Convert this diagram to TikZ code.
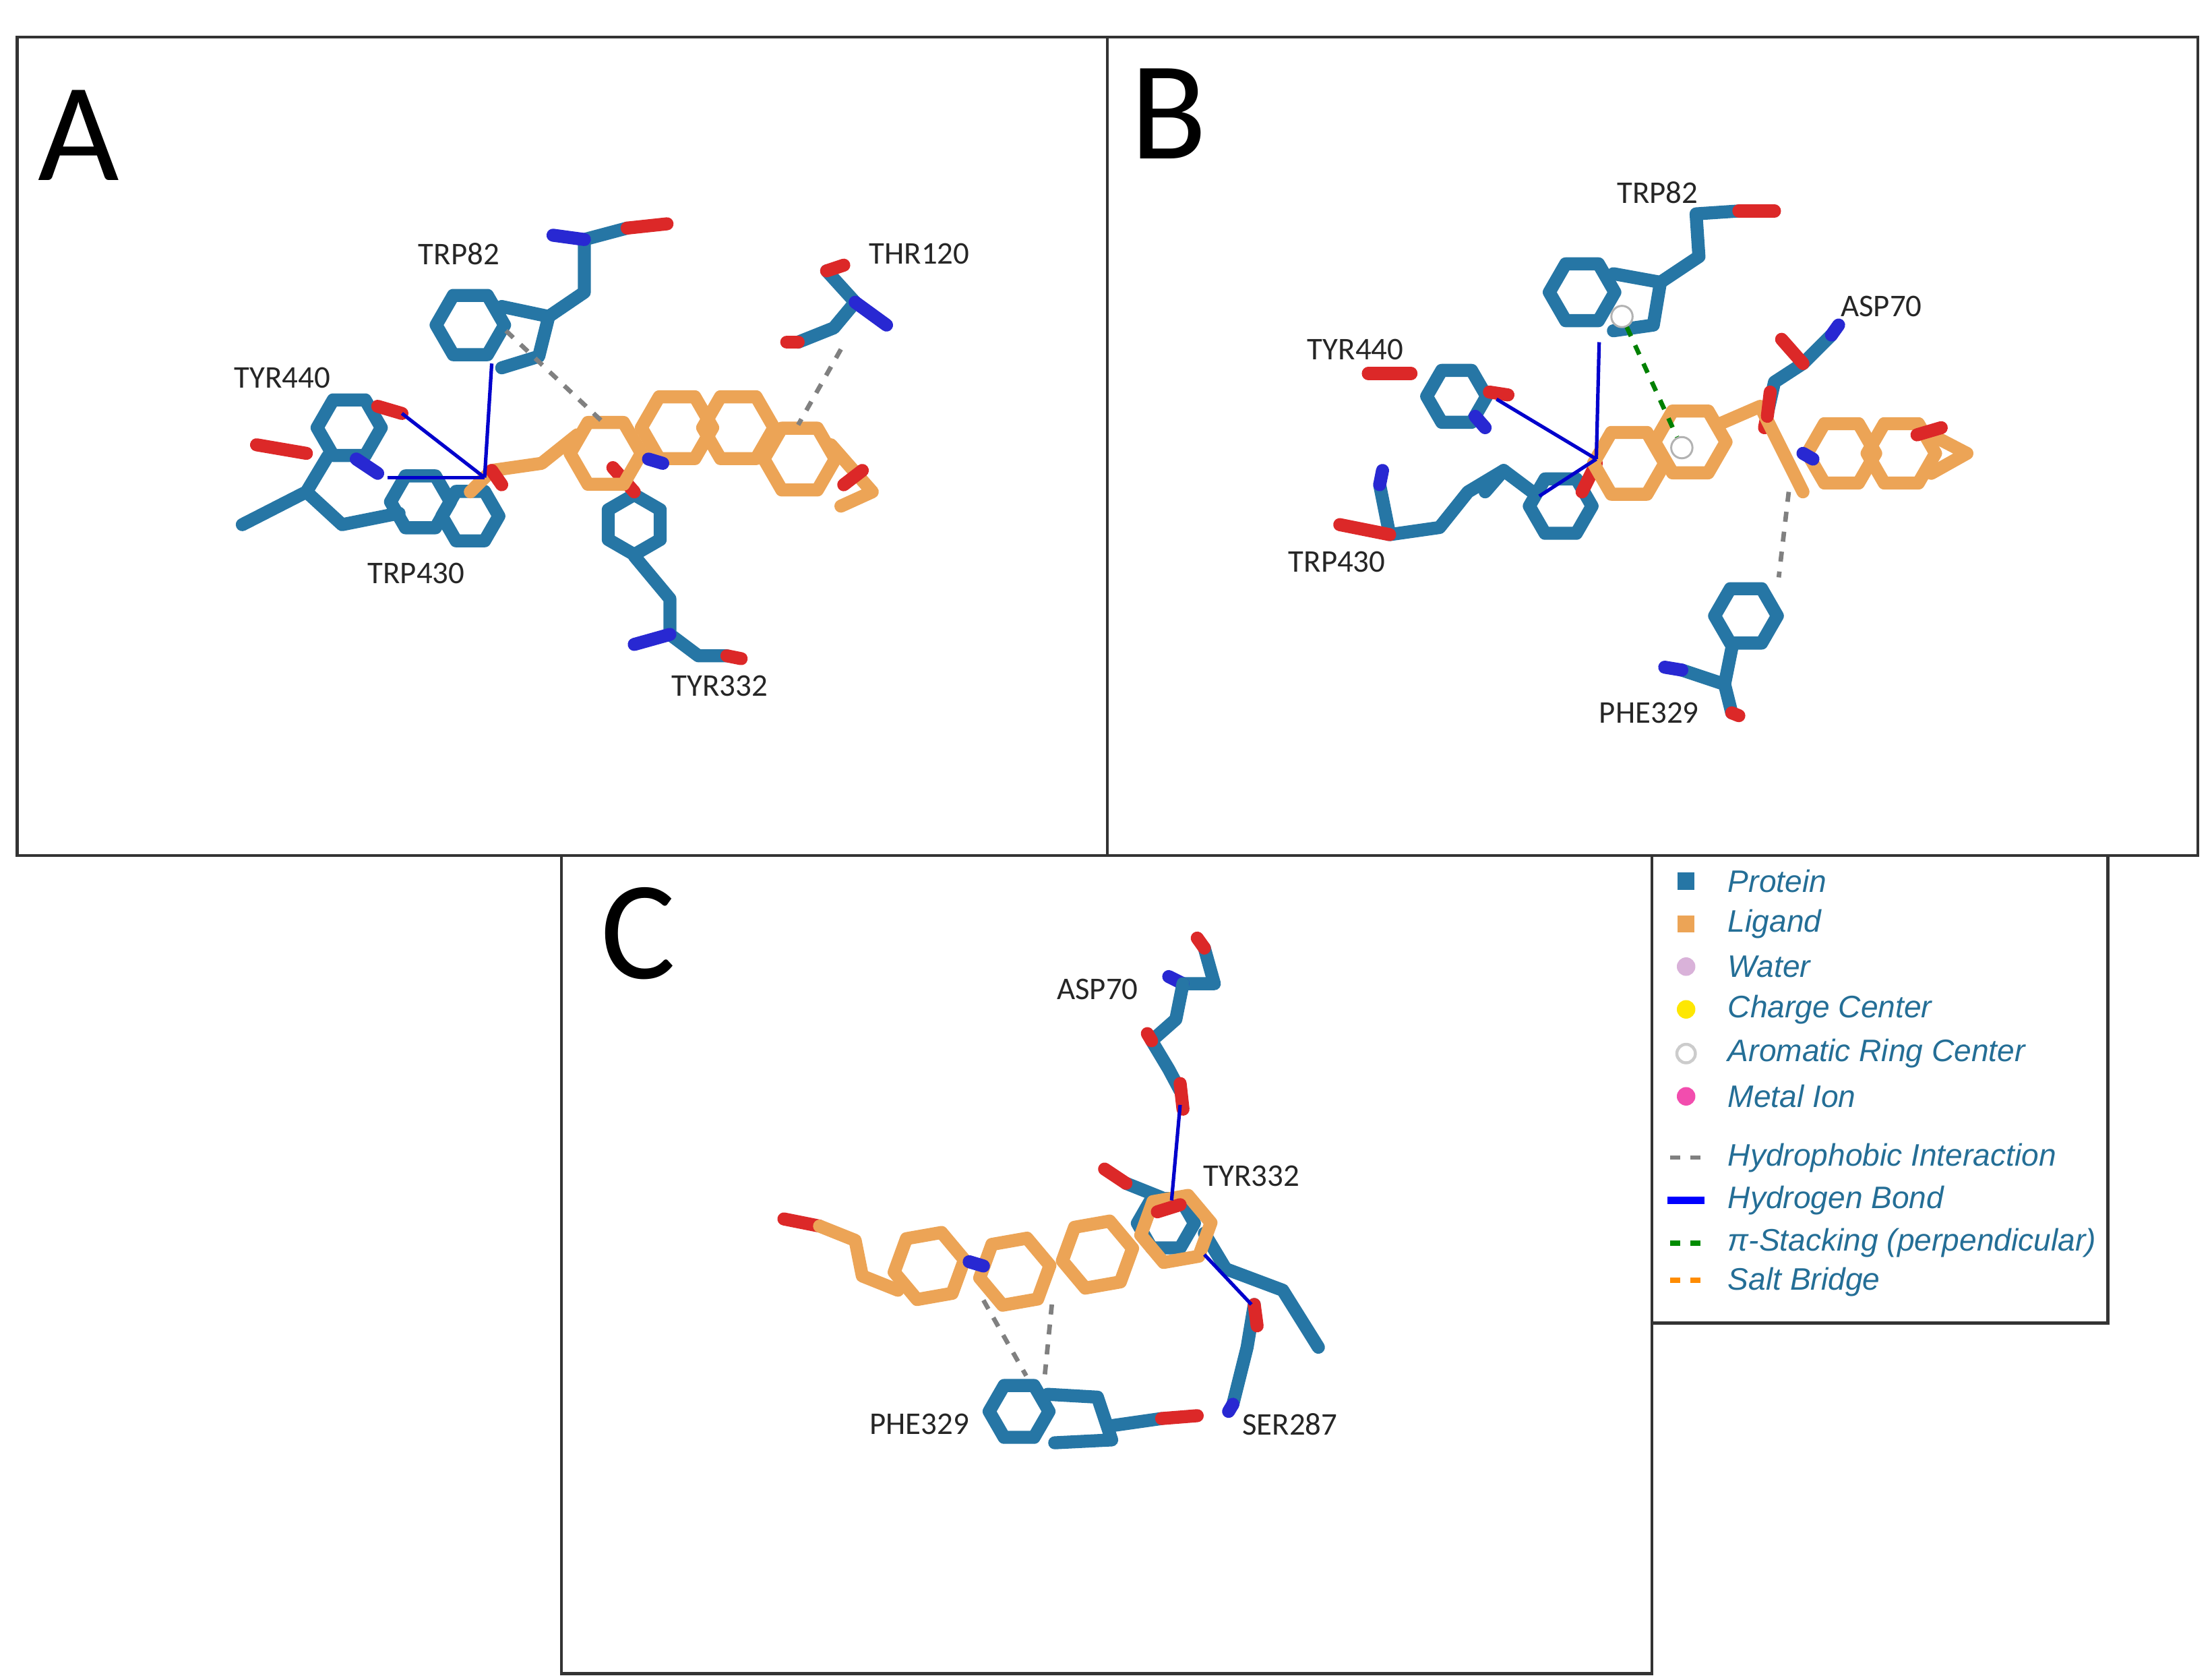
\documentclass[tikz,border=0pt]{standalone}
\usepackage{fontspec}
\setmainfont{Carlito}
\newfontfamily\legfont{Liberation Sans}
\usetikzlibrary{shapes.geometric}
\definecolor{prot}{RGB}{38,118,165}
\definecolor{lig}{RGB}{236,164,86}
\definecolor{oxy}{RGB}{220,40,40}
\definecolor{nit}{RGB}{40,40,210}
\definecolor{legtxt}{RGB}{36,110,150}
\tikzset{
 pst/.style={draw=prot, line width=2.6pt, line cap=round, line join=round},
 lst/.style={draw=lig, line width=2.6pt, line cap=round, line join=round},
 ost/.style={draw=oxy, line width=2.6pt, line cap=round},
 nst/.style={draw=nit, line width=2.6pt, line cap=round},
 phex/.style={pst, regular polygon, regular polygon sides=6, minimum size=#1, inner sep=0pt},
 lhex/.style={lst, regular polygon, regular polygon sides=6, minimum size=#1, inner sep=0pt},
 hyd/.style={draw=gray, line width=0.9pt, dash pattern=on 2pt off 2pt},
 hb/.style={draw=blue!80!black, line width=0.7pt},
 pis/.style={draw=green!50!black, line width=0.9pt, dash pattern=on 2pt off 2pt},
 lab/.style={font=\fontsize{6.3}{7}\selectfont, text=black!85},
 big/.style={font=\fontsize{28}{30}\selectfont},
 leg/.style={font=\legfont\itshape\fontsize{6.2}{7}\selectfont, text=legtxt, anchor=west},
 panel/.style={draw=black!80, line width=0.6pt}
}
\begin{document}
\begin{tikzpicture}[x=0.01cm,y=-0.01cm]
\useasboundingbox (0,0) rectangle (1552,1176.6);
% panels
\draw[panel] (12,26) rectangle (777,600);
\draw[panel] (777,26) rectangle (1542,600);
\draw[panel] (394,600) rectangle (1159,1174);
\draw[panel] (1159,600) rectangle (1479,928);
\node[big] at (55,95) {A};
\node[big] at (820,80) {B};
\node[big] at (448,655) {C};
% ===== Panel A =====
\node[phex=0.48cm] at (330,228) {};
\draw[pst] (352,215) -- (385,222) -- (378,250) -- (352,258);
\draw[pst] (385,222) -- (410,205) -- (410,168) -- (440,160);
\draw[ost] (440,160) -- (468,157);
\draw[nst] (410,168) -- (388,165);
\node[phex=0.45cm] at (245,300) {};
\draw[pst] (230,320) -- (215,345) -- (170,368);
\draw[pst] (215,345) -- (240,368) -- (280,360);
\draw[ost] (215,318) -- (180,312);
\node[phex=0.42cm] at (295,352) {};
\node[phex=0.4cm] at (330,362) {};
\draw[ost] (265,285) -- (282,290);
\draw[nst] (250,322) -- (265,332);
\node[phex=0.42cm,rotate=30] at (445,368) {};
\draw[pst] (445,390) -- (470,420) -- (470,445) -- (490,460) -- (510,460);
\draw[ost] (445,345) -- (430,328);
\draw[nst] (470,445) -- (445,452);
\draw[ost] (510,460) -- (520,462);
\draw[pst] (580,190) -- (600,212) -- (585,230) -- (560,240);
\draw[ost] (580,190) -- (592,186);
\draw[nst] (600,212) -- (622,228);
\draw[ost] (560,240) -- (552,240);
% ligand A
\draw[lst] (330,345) -- (345,330) -- (380,325) -- (405,305);
\draw[ost] (345,330) -- (352,340);
\node[lhex=0.5cm] at (425,318) {};
\node[lhex=0.5cm] at (475,300) {};
\node[lhex=0.5cm] at (518,300) {};
\node[lhex=0.5cm] at (561,322) {};
\draw[lst] (583,312) -- (612,345) -- (590,355);
\draw[ost] (605,330) -- (592,340);
\draw[nst] (455,322) -- (465,325);
% interactions A
\draw[hyd] (355,232) -- (425,298);
\draw[hyd] (590,245) -- (560,298);
\draw[hb] (345,255) -- (340,335);
\draw[hb] (282,290) -- (340,335);
\draw[hb] (272,335) -- (340,335);
\node[lab] at (322,178) {TRP82};
\node[lab] at (645,178) {THR120};
\node[lab] at (198,265) {TYR440};
\node[lab] at (292,402) {TRP430};
\node[lab] at (505,481) {TYR332};
% ===== Panel B =====
\node[phex=0.46cm] at (1110,205) {};
\draw[pst] (1132,192) -- (1165,198) -- (1160,228) -- (1132,232);
\draw[pst] (1165,198) -- (1192,180) -- (1190,150) -- (1220,148);
\draw[ost] (1220,148) -- (1245,148);
\node[phex=0.42cm] at (1022,278) {};
\draw[ost] (990,262) -- (960,262);
\draw[ost] (1045,275) -- (1058,277);
\draw[nst] (1035,292) -- (1042,300);
\node[phex=0.44cm] at (1095,355) {};
\draw[pst] (1075,345) -- (1055,330) -- (1030,345) -- (1010,370) -- (975,375) -- (968,340);
\draw[pst] (1055,330) -- (1042,345);
\draw[ost] (975,375) -- (940,368);
\draw[nst] (968,340) -- (970,330);
\draw[pst] (1285,235) -- (1265,255) -- (1245,268) -- (1240,290);
\draw[nst] (1285,235) -- (1290,228);
\draw[ost] (1265,255) -- (1250,238);
\draw[ost] (1240,290) -- (1238,300);
\node[phex=0.44cm] at (1225,432) {};
\draw[pst] (1215,455) -- (1210,480) -- (1215,500);
\draw[pst] (1210,480) -- (1180,470);
\draw[nst] (1180,470) -- (1168,468);
\draw[ost] (1215,500) -- (1220,502);
% ligand B
\draw[ost] (1120,325) -- (1110,345);
\node[lhex=0.5cm] at (1143,325) {};
\node[lhex=0.5cm] at (1186,310) {};
\draw[lst] (1205,298) -- (1235,285) -- (1250,315) -- (1265,345);
\draw[ost] (1240,292) -- (1242,275);
\node[lhex=0.48cm] at (1292,318) {};
\node[lhex=0.48cm] at (1334,318) {};
\draw[lst] (1355,305) -- (1380,318) -- (1355,332);
\draw[ost] (1345,305) -- (1362,300);
\draw[nst] (1265,318) -- (1272,322);
\node[circle, fill=white, draw=gray!60, inner sep=1.5pt] (rb1) at (1138,222) {};
\node[circle, fill=white, draw=gray!60, inner sep=1.5pt] (rb2) at (1180,314) {};
\draw[pis] (rb1) -- (rb2);
\draw[hb] (1122,240) -- (1120,322);
\draw[hb] (1050,280) -- (1120,322);
\draw[hb] (1080,348) -- (1120,322);
\draw[hyd] (1255,345) -- (1248,405);
\node[lab] at (1163,135) {TRP82};
\node[lab] at (1320,215) {ASP70};
\node[lab] at (951,245) {TYR440};
\node[lab] at (938,394) {TRP430};
\node[lab] at (1157,500) {PHE329};
% ===== Panel C =====
\draw[pst] (830,690) -- (852,690) -- (845,665);
\draw[ost] (845,665) -- (840,658);
\draw[nst] (830,690) -- (820,685);
\draw[pst] (830,690) -- (825,715) -- (808,730) -- (820,750) -- (828,765);
\draw[ost] (828,760) -- (830,778);
\draw[ost] (808,730) -- (805,725);
\node[phex=0.4cm] at (818,858) {};
\draw[pst] (790,830) -- (815,840);
\draw[ost] (790,830) -- (775,820);
\draw[pst] (845,865) -- (860,890) -- (900,905) -- (925,945);
\draw[pst] (880,915) -- (875,945) -- (865,985);
\draw[nst] (865,985) -- (862,990);
\draw[ost] (880,915) -- (882,930);
% ligand C
\draw[ost] (550,855) -- (575,860);
\draw[lst] (575,860) -- (600,870) -- (605,895) -- (630,905);
\node[lhex=0.5cm,rotate=10] at (652,888) {};
\node[lhex=0.5cm,rotate=10] at (712,892) {};
\node[lhex=0.5cm,rotate=10] at (770,880) {};
\node[lhex=0.5cm,rotate=10] at (825,862) {};
\draw[nst] (680,885) -- (690,888);
\draw[ost] (812,850) -- (828,845);
\node[phex=0.42cm] at (715,990) {};
\draw[pst] (735,978) -- (770,980) -- (780,1010) -- (740,1012);
\draw[pst] (780,1000) -- (815,995);
\draw[ost] (815,995) -- (840,993);
\draw[hb] (828,775) -- (822,842);
\draw[hb] (845,880) -- (878,915);
\draw[hyd] (690,912) -- (720,965);
\draw[hyd] (738,915) -- (733,965);
\node[lab] at (770,694) {ASP70};
\node[lab] at (878,825) {TYR332};
\node[lab] at (645,999) {PHE329};
\node[lab] at (905,999) {SER287};
% ===== Legend =====
\fill[prot] (1177,612) rectangle (1189,624);
\fill[lig] (1177,642) rectangle (1189,654);
\fill[violet!30] (1183,678) circle (6.5);
\fill[yellow!90!orange] (1183,708) circle (6.5);
\draw[gray!40, line width=0.6pt] (1183,739) circle (6.5);
\fill[magenta!70] (1183,769) circle (6.5);
\draw[hyd] (1172,812) -- (1195,812);
\draw[draw=blue, line width=1.5pt] (1170,842) -- (1196,842);
\draw[draw=green!55!black, line width=1pt, dash pattern=on 2pt off 2pt] (1172,872) -- (1195,872);
\draw[draw=orange!90!yellow, line width=1pt, dash pattern=on 2pt off 2pt] (1172,898) -- (1195,898);
\node[leg] at (1200,618) {Protein};
\node[leg] at (1200,648) {Ligand};
\node[leg] at (1200,678) {Water};
\node[leg] at (1200,708) {Charge Center};
\node[leg] at (1200,739) {Aromatic Ring Center};
\node[leg] at (1200,769) {Metal Ion};
\node[leg] at (1200,812) {Hydrophobic Interaction};
\node[leg] at (1200,842) {Hydrogen Bond};
\node[leg] at (1200,872) {π-Stacking (perpendicular)};
\node[leg] at (1200,899) {Salt Bridge};
\end{tikzpicture}
\end{document}
